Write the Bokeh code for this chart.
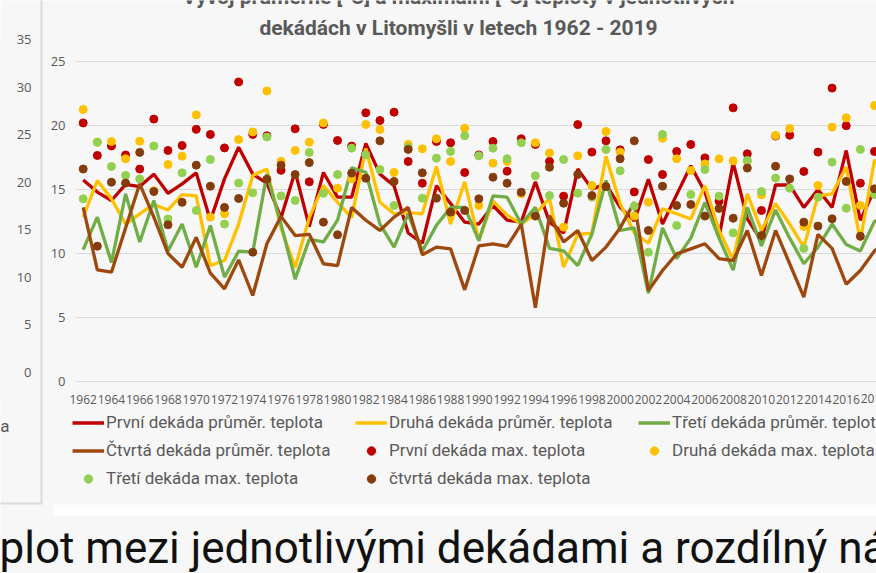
from bokeh.plotting import figure
from bokeh.models import (Range1d, FixedTicker, Label, ColumnDataSource, LinearAxis,
                          Legend, LegendItem, BoxAnnotation)
from bokeh.embed import file_html
from bokeh.resources import INLINE

years = list(range(1962, 2020))

prvni_prum = [15.75, 14.8, 14.14, 15.4, 15.23, 16.2, 14.7, 15.44, 16.3, 12.58,
              15.83, 18.3, 16.2, 15.5, 12.8, 16.4, 12.1, 16.33, 14.4, 14.4,
              18.6, 16.2, 15.3, 11.6, 10.8, 15.3, 13.9, 12.45, 12.3, 13.75,
              12.6, 12.45, 15.6, 12.45, 11.6, 16.6, 15.05, 15.4, 13.6, 12.55,
              15.8, 12.3, 14.6, 16.85, 14.8, 11.3, 17.1, 12.7, 11.0, 15.35,
              15.35, 13.6, 15.0, 13.6, 18.05, 12.6, 15.0, 15.5]
druha_prum = [12.84, 15.7, 14.27, 12.3, 13.1, 13.83, 13.4, 14.6, 14.5, 9.06,
              9.45, 12.3, 16.1, 16.6, 12.0, 8.9, 12.8, 15.3, 14.0, 12.8,
              18.2, 14.0, 13.1, 13.2, 13.1, 16.8, 12.3, 15.6, 11.0, 14.1,
              13.0, 12.3, 13.1, 14.3, 8.93, 11.5, 11.6, 17.6, 13.9, 11.6,
              10.8, 13.5, 13.1, 12.7, 15.3, 11.8, 9.5, 14.66, 11.8, 13.9,
              12.3, 10.5, 14.5, 14.66, 16.75, 11.0, 17.3, 16.0]
treti_prum = [10.3, 12.84, 9.3, 14.66, 10.9, 14.14, 10.2, 12.3, 8.93, 12.19,
              8.15, 10.18, 10.1, 16.2, 12.3, 8.0, 11.1, 10.9, 12.6, 16.7,
              16.35, 12.3, 10.5, 13.1, 10.2, 12.2, 13.6, 13.6, 11.0, 14.5,
              14.4, 12.3, 13.6, 10.4, 10.2, 9.06, 11.5, 15.7, 11.8, 12.0,
              6.9, 12.0, 9.6, 11.2, 14.0, 11.2, 8.7, 13.6, 10.6, 13.4,
              11.2, 9.2, 10.5, 12.3, 10.7, 10.2, 12.5, 13.0]
ctvrta_prum = [13.6, 8.72, 8.54, 12.0, 15.44, 12.84, 10.0, 8.93, 11.27, 8.46,
               7.24, 9.5, 6.72, 10.76, 12.9, 11.4, 11.5, 9.2, 9.06, 13.6,
               12.6, 11.8, 12.84, 13.6, 9.9, 10.5, 10.36, 7.16, 10.6, 10.76,
               10.55, 12.3, 5.76, 12.97, 10.9, 11.8, 9.45, 10.5, 12.0, 14.0,
               7.1, 8.67, 9.97, 10.36, 10.76, 9.6, 9.45, 11.8, 8.28, 11.8,
               9.2, 6.6, 11.5, 10.4, 7.6, 8.67, 10.2, 11.0]

prvni_max = [20.2, 17.66, 18.4, 17.7, 16.6, 20.5, 18.05, 18.44, 19.7, 19.3,
             18.25, 23.4, 19.3, 19.2, 16.5, 19.74, 15.6, 20.08, 18.83, 18.39,
             20.99, 20.39, 21.04, 17.19, 15.49, 18.75, 18.65, 16.33, 17.7, 18.75,
             16.43, 18.96, 18.52, 17.19, 14.48, 20.07, 17.92, 18.8, 18.1, 14.81,
             17.34, 16.17, 17.97, 18.52, 17.47, 14.09, 21.38, 17.79, 13.36, 19.17,
             19.24, 16.41, 17.92, 22.92, 19.98, 15.49, 17.97, 19.0]
druha_max = [21.25, 18.7, 18.75, 17.4, 18.77, 14.9, 16.95, 17.6, 20.83, 12.84,
             13.1, 18.9, 19.5, 22.7, 17.2, 18.05, 18.7, 20.2, 15.1, 15.83,
             20.08, 19.69, 16.33, 18.52, 18.18, 18.96, 17.19, 19.79, 13.75, 17.06,
             17.19, 14.66, 18.65, 17.86, 12.06, 17.63, 15.31, 19.53, 17.92, 12.92,
             14.01, 19.01, 17.4, 16.48, 17.0, 17.4, 17.24, 17.2, 14.58, 19.22,
             19.77, 12.11, 15.31, 19.87, 20.6, 13.75, 21.56, 20.0]
treti_max = [14.27, 18.7, 16.8, 16.1, 15.83, 18.4, 12.7, 16.3, 13.36, 17.34,
             12.3, 15.5, 14.74, 19.1, 14.5, 14.14, 17.9, 14.7, 16.17, 18.23,
             17.71, 16.56, 13.75, 18.3, 14.32, 17.45, 17.97, 19.2, 17.63, 18.23,
             17.4, 18.65, 16.07, 14.53, 17.34, 14.71, 14.4, 18.13, 16.46, 13.7,
             10.1, 19.3, 12.19, 14.61, 16.56, 14.48, 11.61, 17.27, 14.84, 15.89,
             15.1, 10.4, 14.4, 17.14, 13.54, 18.13, 14.61, 16.5]
ctvrta_max = [16.6, 10.57, 15.57, 15.5, 17.9, 14.84, 12.24, 14.0, 16.9, 15.26,
              13.6, 14.3, 10.1, 15.8, 16.9, 16.17, 17.1, 12.45, 11.46, 16.28,
              15.88, 18.8, 15.63, 18.13, 16.3, 14.32, 13.23, 13.36, 14.27, 15.96,
              15.49, 14.79, 12.92, 16.74, 13.93, 16.17, 14.53, 15.23, 17.4, 18.8,
              11.8, 15.26, 13.75, 13.83, 12.92, 13.52, 12.76, 16.67, 11.41, 16.82,
              15.83, 12.45, 12.14, 12.71, 15.63, 11.35, 15.05, 15.5]

line_labels = ["První dekáda průměr. teplota", "Druhá dekáda průměr. teplota",
               "Třetí dekáda průměr. teplota", "Čtvrtá dekáda průměr. teplota"]
dot_labels = ["První dekáda max. teplota", "Druhá dekáda max. teplota",
              "Třetí dekáda max. teplota", "čtvrtá dekáda max. teplota"]
y_ticks = [0, 5, 10, 15, 20, 25]
x_ticks = years[0:-2:2]          # 1962 ... 2016 (2018 is cut by the right edge)
x_cut_tick = 2018
frag_ticks = [0, 5, 10, 15, 20, 25, 30, 35]

title_1 = "Vývoj průměrné [°C] a maximální [°C] teploty v jednotlivých"
title_2 = "dekádách v Litomyšli v letech 1962 - 2019"
bottom_text = "plot mezi jednotlivými dekádami a rozdílný ná"
side_text = "ta"

line_colors = ["#C00000", "#FFC000", "#70AD47", "#9E480E"]
dot_colors = ["#C00000", "#FFC000", "#92D050", "#843C0C"]
TXT = "#595959"
BG = "#F7F7F7"

# geometry: the frame covers the whole canvas, pixel -> data helpers
W, H = 876, 573
PXY = 14.13            # px per year
PXV = 12.8             # px per degree
X_1962 = 82.7          # px of 1962
Y_ZERO = 381.0         # px of 0 degC
XS = 1962 - X_1962 / PXY


def fx(px):
    return XS + px / PXY


def fy(py):
    return (Y_ZERO - py) / PXV


src = ColumnDataSource(dict(year=years, l1=prvni_prum, l2=druha_prum, l3=treti_prum,
                            l4=ctvrta_prum, d1=prvni_max, d2=druha_max, d3=treti_max,
                            d4=ctvrta_max))

p = figure(width=W, height=H, output_backend="svg", toolbar_location=None,
           x_range=Range1d(fx(0), fx(W)), y_range=Range1d(fy(H), fy(0)),
           min_border=0)
p.title.visible = False
p.background_fill_color = BG
p.border_fill_color = BG
p.outline_line_color = None

p.xgrid.visible = False
p.ygrid.grid_line_color = "#D9D9D9"
p.ygrid.grid_line_width = 1

p.yaxis.fixed_location = fx(76)
p.yaxis.ticker = FixedTicker(ticks=y_ticks)
p.yaxis.axis_line_color = None
p.yaxis.major_tick_line_color = None
p.yaxis.minor_tick_line_color = None
p.yaxis.major_label_text_color = TXT
p.yaxis.major_label_text_font = "Open Sans"
p.yaxis.major_label_text_font_size = "13px"
p.yaxis.major_label_standoff = 5

p.xaxis.fixed_location = 0
p.xaxis.ticker = FixedTicker(ticks=x_ticks)
p.xaxis.axis_line_color = None
p.xaxis.major_tick_line_color = None
p.xaxis.minor_tick_line_color = None
p.xaxis.major_label_text_color = TXT
p.xaxis.major_label_text_font = "Open Sans"
p.xaxis.major_label_text_font_size = "12px"
p.xaxis.major_label_standoff = 7

# last tick label, cut by the window edge as in the reference
p.add_layout(Label(x=x_cut_tick, y=fy(398), text=str(x_cut_tick), text_align="center",
                   text_baseline="middle", text_font="Open Sans", text_font_size="12px",
                   text_color=TXT))

# hide the grid left of the plot area (the neighbouring slide strip)
p.add_layout(BoxAnnotation(left=fx(-5), right=fx(75.5), top=fy(45), bottom=fy(395),
                           fill_color=BG, fill_alpha=1, line_color=None, level="glyph"))

line_rs = [p.line("year", "l%d" % (i + 1), source=src, line_color=c, line_width=3.3)
           for i, c in enumerate(line_colors)]
dot_rs = [p.scatter("year", "d%d" % (i + 1), source=src, size=8, fill_color=c, line_color=c)
          for i, c in enumerate(dot_colors)]

items = [LegendItem(label=lab, renderers=[r]) for lab, r in zip(line_labels, line_rs)]
items += [LegendItem(label=lab, renderers=[r]) for lab, r in zip(dot_labels, dot_rs)]

legend = Legend(items=items, location=(72, H - 488.8), orientation="horizontal", ncols=3,
                glyph_width=32, glyph_height=21, label_height=21, label_width=242,
                label_standoff=2, spacing=7, padding=0, margin=0,
                border_line_color=None, background_fill_alpha=0,
                label_text_font="Roboto", label_text_font_size="17px",
                label_text_color=TXT)
p.add_layout(legend, "center")

# neighbouring chart's axis (left strip)
p.extra_y_ranges = {"frag": Range1d((372 - H) / 9.514, 372 / 9.514)}
frag_axis = LinearAxis(y_range_name="frag", fixed_location=fx(41),
                       ticker=FixedTicker(ticks=frag_ticks), axis_line_color=None,
                       major_tick_line_color=None, minor_tick_line_color=None,
                       major_label_standoff=4, major_label_text_color=TXT,
                       major_label_text_font="Open Sans", major_label_text_font_size="13px")
p.add_layout(frag_axis, "left")

# slide frame pieces
p.add_layout(BoxAnnotation(left=fx(40), right=fx(42), top=fy(-5), bottom=fy(503),
                           fill_color="#DADADA", fill_alpha=1, line_color=None))
p.add_layout(BoxAnnotation(left=fx(-5), right=fx(42), top=fy(502), bottom=fy(504),
                           fill_color="#DADADA", fill_alpha=1, line_color=None))
p.add_layout(BoxAnnotation(left=fx(53), right=fx(885), top=fy(504), bottom=fy(515),
                           fill_color="#FFFFFF", fill_alpha=1, line_color=None))

# title (first line is cut by the top edge in the reference)
p.add_layout(Label(x=fx(458), y=fy(-4), text=title_1, text_align="center",
                   text_baseline="alphabetic", text_font="Roboto",
                   text_font_style="bold", text_font_size="21px", text_color=TXT))
p.add_layout(Label(x=fx(458), y=fy(27), text=title_2, text_align="center",
                   text_baseline="alphabetic", text_font="Roboto",
                   text_font_style="bold", text_font_size="21px", text_color=TXT))

p.add_layout(Label(x=fx(9), y=fy(425), text=side_text, text_align="right",
                   text_baseline="alphabetic", text_font="Roboto",
                   text_font_size="17px", text_color=TXT))

# big text of the slide below
p.add_layout(Label(x=fx(-1), y=fy(547), text=bottom_text, text_align="left",
                   text_baseline="alphabetic", text_font="Roboto",
                   text_font_size="44px", text_color="#111111"))

open("out.html", "w").write(file_html(p, INLINE))
